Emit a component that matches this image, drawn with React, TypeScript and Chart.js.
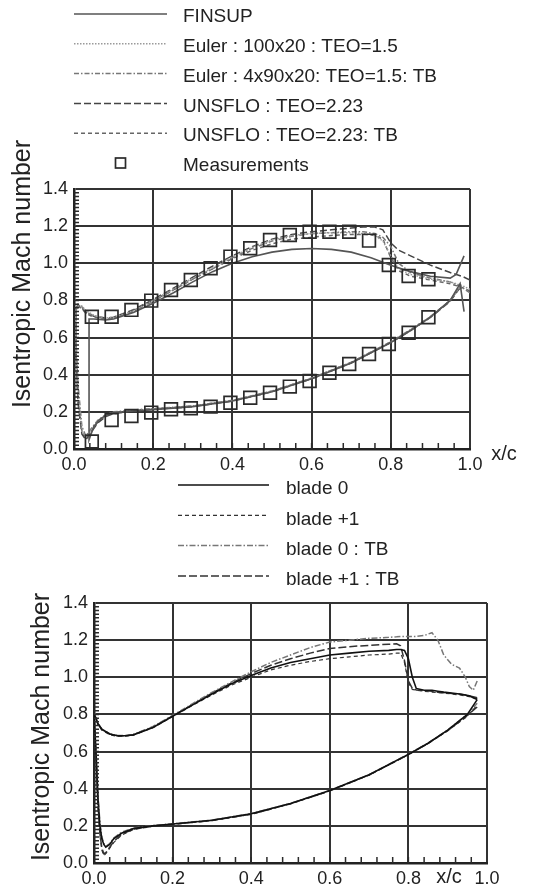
import React, { useEffect, useRef } from 'react';
import { Chart, registerables } from 'chart.js';

Chart.register(...registerables);

const FONT = "'Liberation Sans', Arial, Helvetica, sans-serif";

// ---------------- Top chart data ----------------
const TOP_UP_X = [0.005, 0.01, 0.02, 0.03, 0.05, 0.08, 0.1, 0.15, 0.2, 0.25, 0.3, 0.35, 0.4, 0.45, 0.5, 0.55, 0.6, 0.65, 0.7, 0.73, 0.76, 0.78, 0.8, 0.82, 0.85, 0.9, 0.95, 0.98, 1.0];
const TOP_LO_X = [0.005, 0.01, 0.02, 0.03, 0.04, 0.06, 0.08, 0.1, 0.15, 0.2, 0.3, 0.4, 0.5, 0.6, 0.7, 0.8, 0.85, 0.9, 0.95, 0.97, 0.98];

const FIN_UP_X = [0.038, 0.05, 0.08, 0.1, 0.15, 0.2, 0.25, 0.3, 0.35, 0.4, 0.45, 0.5, 0.55, 0.6, 0.65, 0.7, 0.75, 0.8, 0.85, 0.9, 0.95, 0.965, 0.985];
const FIN_UP_Y = [0.70, 0.70, 0.695, 0.70, 0.735, 0.785, 0.84, 0.90, 0.955, 1.0, 1.035, 1.06, 1.075, 1.08, 1.075, 1.06, 1.03, 0.99, 0.955, 0.93, 0.92, 0.94, 1.04];
const FIN_LO_X = [0.038, 0.05, 0.065, 0.08, 0.1, 0.15, 0.2, 0.3, 0.4, 0.5, 0.6, 0.7, 0.8, 0.85, 0.9, 0.95, 0.975, 0.985];
const FIN_LO_Y = [0.05, 0.12, 0.16, 0.18, 0.195, 0.205, 0.212, 0.228, 0.258, 0.308, 0.378, 0.463, 0.573, 0.638, 0.71, 0.80, 0.89, 0.74];

const EULER1_UP = [0.74, 0.77, 0.77, 0.745, 0.72, 0.705, 0.71, 0.745, 0.80, 0.86, 0.92, 0.975, 1.035, 1.085, 1.125, 1.15, 1.16, 1.165, 1.165, 1.16, 1.15, 1.12, 1.04, 0.97, 0.94, 0.915, 0.90, 0.88, 0.86];
const EULER1_LO = [0.55, 0.30, 0.10, 0.06, 0.09, 0.15, 0.18, 0.195, 0.21, 0.215, 0.23, 0.26, 0.31, 0.38, 0.465, 0.575, 0.64, 0.71, 0.80, 0.86, 0.88];
const EULER2_UP = [0.75, 0.78, 0.765, 0.74, 0.715, 0.70, 0.705, 0.74, 0.795, 0.855, 0.915, 0.97, 1.03, 1.08, 1.12, 1.145, 1.16, 1.165, 1.17, 1.17, 1.16, 1.14, 1.09, 1.0, 0.95, 0.92, 0.90, 0.87, 0.84];
const EULER2_LO = [0.6, 0.35, 0.12, 0.07, 0.10, 0.155, 0.185, 0.2, 0.21, 0.218, 0.232, 0.262, 0.312, 0.382, 0.467, 0.578, 0.643, 0.713, 0.80, 0.86, 0.87];
const UNS1_UP = [0.76, 0.775, 0.76, 0.735, 0.715, 0.705, 0.71, 0.75, 0.805, 0.865, 0.925, 0.985, 1.04, 1.09, 1.13, 1.155, 1.17, 1.18, 1.19, 1.195, 1.195, 1.18, 1.11, 1.07, 1.04, 0.99, 0.95, 0.93, 0.91];
const UNS1_LO = [0.5, 0.25, 0.08, 0.05, 0.08, 0.14, 0.175, 0.19, 0.205, 0.213, 0.228, 0.258, 0.308, 0.378, 0.463, 0.573, 0.638, 0.708, 0.795, 0.855, 0.88];
const UNS2_UP = [0.75, 0.77, 0.755, 0.73, 0.71, 0.70, 0.705, 0.745, 0.80, 0.855, 0.915, 0.97, 1.025, 1.07, 1.105, 1.13, 1.14, 1.15, 1.155, 1.155, 1.15, 1.13, 1.03, 0.96, 0.93, 0.91, 0.89, 0.87, 0.85];
const UNS2_LO = [0.52, 0.28, 0.09, 0.055, 0.085, 0.145, 0.18, 0.195, 0.208, 0.216, 0.231, 0.261, 0.311, 0.381, 0.466, 0.576, 0.641, 0.711, 0.80, 0.86, 0.87];

const MEAS_X = [0.045, 0.095, 0.145, 0.195, 0.245, 0.295, 0.345, 0.395, 0.445, 0.495, 0.545, 0.595, 0.645, 0.695, 0.745, 0.795, 0.845, 0.895];
const MEAS_UP_Y = [0.712, 0.712, 0.749, 0.799, 0.856, 0.910, 0.973, 1.036, 1.081, 1.125, 1.152, 1.170, 1.170, 1.170, 1.122, 0.991, 0.932, 0.914];
const MEAS_LO_Y = [0.040, 0.156, 0.178, 0.196, 0.214, 0.219, 0.228, 0.249, 0.276, 0.303, 0.336, 0.366, 0.411, 0.458, 0.512, 0.565, 0.626, 0.709];

const TOP_LABELS = ['FINSUP', 'Euler : 100x20 : TEO=1.5', 'Euler : 4x90x20: TEO=1.5: TB', 'UNSFLO : TEO=2.23', 'UNSFLO : TEO=2.23: TB', 'Measurements'];

// ---------------- Bottom chart data ----------------
const BOT_UP_X = [0, 0.005, 0.01, 0.02, 0.04, 0.06, 0.08, 0.1, 0.15, 0.2, 0.25, 0.3, 0.35, 0.4, 0.45, 0.5, 0.55, 0.6, 0.65, 0.7, 0.75, 0.77, 0.78, 0.79, 0.8, 0.81, 0.82, 0.84, 0.86, 0.875, 0.89, 0.91, 0.93, 0.945, 0.955, 0.965, 0.975];
const BOT_LO_X = [0, 0.005, 0.01, 0.015, 0.02, 0.025, 0.03, 0.04, 0.05, 0.07, 0.1, 0.15, 0.2, 0.3, 0.4, 0.5, 0.6, 0.7, 0.8, 0.85, 0.9, 0.95, 0.975];

const B0_UP = [0.80, 0.78, 0.75, 0.72, 0.695, 0.685, 0.685, 0.69, 0.73, 0.79, 0.85, 0.91, 0.965, 1.01, 1.05, 1.08, 1.10, 1.12, 1.13, 1.14, 1.145, 1.15, 1.15, 1.145, 1.10, 1.0, 0.94, 0.93, 0.93, 0.925, 0.92, 0.915, 0.91, 0.905, 0.90, 0.89, 0.88];
const B0_LO = [0.80, 0.6, 0.35, 0.2, 0.13, 0.1, 0.085, 0.1, 0.13, 0.16, 0.185, 0.2, 0.21, 0.23, 0.265, 0.32, 0.39, 0.475, 0.585, 0.645, 0.715, 0.80, 0.88];
const B1_UP = [0.80, 0.775, 0.745, 0.715, 0.69, 0.682, 0.683, 0.688, 0.728, 0.788, 0.848, 0.905, 0.958, 1.0, 1.04, 1.065, 1.085, 1.10, 1.11, 1.12, 1.125, 1.13, 1.13, 1.08, 0.97, 0.935, 0.93, 0.925, 0.92, 0.918, 0.915, 0.91, 0.905, 0.90, 0.895, 0.89, 0.885];
const B1_LO = [0.80, 0.55, 0.3, 0.15, 0.07, 0.04, 0.05, 0.08, 0.11, 0.15, 0.18, 0.198, 0.208, 0.228, 0.262, 0.318, 0.388, 0.473, 0.583, 0.643, 0.712, 0.79, 0.85];
const B0TB_UP = [0.80, 0.78, 0.75, 0.72, 0.695, 0.686, 0.687, 0.692, 0.735, 0.795, 0.857, 0.918, 0.975, 1.03, 1.08, 1.12, 1.16, 1.19, 1.20, 1.21, 1.215, 1.218, 1.22, 1.22, 1.22, 1.22, 1.22, 1.225, 1.24, 1.20, 1.12, 1.07, 1.05, 1.0, 0.95, 0.93, 0.98];
const B0TB_LO = [0.80, 0.62, 0.37, 0.22, 0.14, 0.105, 0.09, 0.105, 0.135, 0.165, 0.188, 0.202, 0.211, 0.231, 0.266, 0.321, 0.391, 0.476, 0.586, 0.646, 0.716, 0.80, 0.86];
const B1TB_UP = [0.80, 0.78, 0.75, 0.72, 0.695, 0.685, 0.686, 0.691, 0.732, 0.792, 0.853, 0.914, 0.97, 1.02, 1.065, 1.10, 1.13, 1.155, 1.165, 1.172, 1.178, 1.18, 1.17, 1.09, 0.98, 0.94, 0.932, 0.928, 0.925, 0.92, 0.917, 0.913, 0.91, 0.905, 0.90, 0.895, 0.89];
const B1TB_LO = [0.80, 0.57, 0.32, 0.16, 0.08, 0.05, 0.055, 0.085, 0.115, 0.155, 0.182, 0.2, 0.209, 0.229, 0.263, 0.319, 0.389, 0.474, 0.584, 0.644, 0.713, 0.795, 0.84];

const BOT_LABELS = ['blade 0', 'blade +1', 'blade 0 : TB', 'blade +1 : TB'];

const X_TICKS = [0, 0.2, 0.4, 0.6, 0.8, 1.0];
const Y_TICKS = [0, 0.2, 0.4, 0.6, 0.8, 1.0, 1.2, 1.4];
const Y_TITLE = 'Isentropic Mach number';
const X_TITLE = 'x/c';

type Pt = { x: number; y: number };

function loop(ux: number[], uy: number[], lx: number[], ly: number[]): Pt[] {
  const out: Pt[] = [];
  for (let i = ux.length - 1; i >= 0; i--) out.push({ x: ux[i], y: uy[i] });
  for (let i = 0; i < lx.length; i++) out.push({ x: lx[i], y: ly[i] });
  return out;
}
function pairs(xs: number[], ys: number[]): Pt[] {
  return xs.map((x, i) => ({ x, y: ys[i] }));
}

const decorPlugin = {
  id: 'decor',
  afterDraw(chart: any, _args: any, opts: any) {
    const ctx = chart.ctx as CanvasRenderingContext2D;
    const { left, bottom } = chart.chartArea;
    const xs = chart.scales.x;
    const ys = chart.scales.y;
    ctx.save();
    // minor ticks
    ctx.strokeStyle = '#2a2a2a';
    ctx.lineWidth = 1.5;
    ctx.setLineDash([]);
    ctx.beginPath();
    for (let k = 1; k < 25; k++) {
      const px = xs.getPixelForValue(k * 0.04);
      ctx.moveTo(px, bottom);
      ctx.lineTo(px, bottom - 6);
    }
    for (let k = 1; k < 70; k++) {
      const py = ys.getPixelForValue(k * 0.02);
      ctx.moveTo(left, py);
      ctx.lineTo(left + 5, py);
    }
    ctx.stroke();

    // legend
    const lg = opts.legend;
    ctx.font = `19px ${FONT}`;
    ctx.textBaseline = 'middle';
    ctx.textAlign = 'left';
    chart.data.datasets.forEach((ds: any, i: number) => {
      const y = lg.y0 + i * lg.dy;
      ctx.save();
      ctx.strokeStyle = ds.borderColor;
      ctx.lineWidth = ds.borderWidth;
      if (ds.showLine === false) {
        ctx.setLineDash([]);
        const cx = (lg.x0 + lg.x1) / 2;
        ctx.strokeRect(cx - 5, y - 5, 10, 10);
      } else {
        ctx.setLineDash(ds.borderDash || []);
        ctx.beginPath();
        ctx.moveTo(lg.x0, y);
        ctx.lineTo(lg.x1, y);
        ctx.stroke();
      }
      ctx.restore();
      ctx.fillStyle = '#222';
      ctx.fillText(ds.label, lg.tx, y + lg.textDy);
    });

    // x label
    ctx.fillStyle = '#222';
    ctx.font = `20px ${FONT}`;
    ctx.textAlign = 'center';
    ctx.fillText(X_TITLE, opts.xLabel.x, opts.xLabel.y);

    // y title
    ctx.save();
    ctx.translate(opts.yTitle.x, opts.yTitle.y);
    ctx.rotate(-Math.PI / 2);
    ctx.font = `25px ${FONT}`;
    ctx.textAlign = 'center';
    ctx.textBaseline = 'middle';
    ctx.fillText(Y_TITLE, 0, 0);
    ctx.restore();

    ctx.restore();
  },
};

function scalesCfg(yWidth: number, xHeight: number) {
  const tickFont = { family: FONT, size: 18 };
  const fmt = (v: any) => Number(v).toFixed(1);
  return {
    x: {
      type: 'linear',
      min: X_TICKS[0],
      max: X_TICKS[X_TICKS.length - 1],
      afterBuildTicks: (s: any) => { s.ticks = X_TICKS.map((v) => ({ value: v })); },
      ticks: { font: tickFont, color: '#222', padding: 5, maxRotation: 0, callback: fmt },
      grid: { color: '#333', lineWidth: 2, drawTicks: false },
      border: { color: '#222', width: 2.5 },
      afterFit: (s: any) => { s.height = xHeight; },
    },
    y: {
      type: 'linear',
      min: Y_TICKS[0],
      max: Y_TICKS[Y_TICKS.length - 1],
      afterBuildTicks: (s: any) => { s.ticks = Y_TICKS.map((v) => ({ value: v })); },
      ticks: { font: tickFont, color: '#222', padding: 6, callback: fmt },
      grid: { color: '#333', lineWidth: 2, drawTicks: false },
      border: { color: '#222', width: 2.5 },
      afterFit: (s: any) => { s.width = yWidth; },
    },
  };
}

function line(label: string, data: Pt[], color: string, dash: number[], width = 1.5) {
  return { label, data, showLine: true, borderColor: color, borderWidth: width, borderDash: dash, pointRadius: 0, pointHoverRadius: 0, fill: false };
}

function topConfig(): any {
  return {
    type: 'scatter',
    data: {
      datasets: [
        line(TOP_LABELS[0], loop(FIN_UP_X, FIN_UP_Y, FIN_LO_X, FIN_LO_Y), '#555', [], 1.6),
        line(TOP_LABELS[1], loop(TOP_UP_X, EULER1_UP, TOP_LO_X, EULER1_LO), '#9a9a9a', [1.5, 1.5]),
        line(TOP_LABELS[2], loop(TOP_UP_X, EULER2_UP, TOP_LO_X, EULER2_LO), '#777', [5, 2, 1.5, 2]),
        line(TOP_LABELS[3], loop(TOP_UP_X, UNS1_UP, TOP_LO_X, UNS1_LO), '#444', [7, 3]),
        line(TOP_LABELS[4], loop(TOP_UP_X, UNS2_UP, TOP_LO_X, UNS2_LO), '#666', [4, 3]),
        {
          label: TOP_LABELS[5],
          data: [...pairs(MEAS_X, MEAS_UP_Y), ...pairs(MEAS_X, MEAS_LO_Y)],
          showLine: false,
          pointStyle: 'rect',
          pointRadius: 9,
          pointHoverRadius: 9,
          borderColor: '#2a2a2a',
          borderWidth: 1.7,
          backgroundColor: 'rgba(0,0,0,0)',
          order: -1,
        },
      ],
    },
    options: {
      responsive: false,
      animation: false,
      devicePixelRatio: 1,
      events: [],
      layout: { padding: { left: 0, right: 77, top: 189, bottom: 0 } },
      plugins: {
        legend: { display: false },
        tooltip: { enabled: false },
        decor: {
          legend: { x0: 74, x1: 167, tx: 183, y0: 14, dy: 29.8, textDy: 3 },
          yTitle: { x: 23, y: 274 },
          xLabel: { x: 504, y: 454 },
        },
      },
      scales: scalesCfg(74, 26),
    },
    plugins: [decorPlugin],
  };
}

function bottomConfig(): any {
  return {
    type: 'scatter',
    data: {
      datasets: [
        line(BOT_LABELS[0], loop(BOT_UP_X, B0_UP, BOT_LO_X, B0_LO), '#111', [], 1.6),
        line(BOT_LABELS[1], loop(BOT_UP_X, B1_UP, BOT_LO_X, B1_LO), '#333', [4, 3], 1.2),
        line(BOT_LABELS[2], loop(BOT_UP_X, B0TB_UP, BOT_LO_X, B0TB_LO), '#777', [6, 2, 1.5, 2], 1.5),
        line(BOT_LABELS[3], loop(BOT_UP_X, B1TB_UP, BOT_LO_X, B1TB_LO), '#333', [8, 3], 1.5),
      ],
    },
    options: {
      responsive: false,
      animation: false,
      devicePixelRatio: 1,
      events: [],
      layout: { padding: { left: 0, right: 60, top: 128, bottom: 0 } },
      plugins: {
        legend: { display: false },
        tooltip: { enabled: false },
        decor: {
          legend: { x0: 178, x1: 269, tx: 286, y0: 10, dy: 30.3, textDy: 4 },
          yTitle: { x: 42, y: 252 },
          xLabel: { x: 449, y: 402 },
        },
      },
      scales: scalesCfg(94, 32),
    },
    plugins: [decorPlugin],
  };
}

function Panel({ make, top, height }: { make: () => any; top: number; height: number }) {
  const ref = useRef<HTMLCanvasElement>(null);
  useEffect(() => {
    const chart = new Chart(ref.current as HTMLCanvasElement, make());
    return () => chart.destroy();
  }, []);
  return (
    <canvas
      ref={ref}
      width={547}
      height={height}
      style={{ position: 'absolute', left: 0, top, width: 547, height, display: 'block' }}
    />
  );
}

export default function App() {
  return (
    <div style={{ position: 'absolute', left: 0, top: 0, width: 547, height: 895, background: '#fff', overflow: 'hidden' }}>
      <Panel make={topConfig} top={0} height={475} />
      <Panel make={bottomConfig} top={475} height={420} />
    </div>
  );
}
